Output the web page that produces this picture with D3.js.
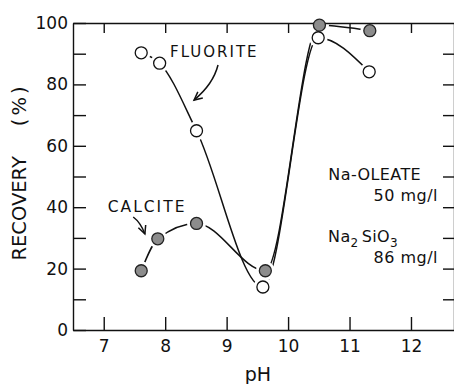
<!DOCTYPE html>
<html>
<head>
<meta charset="utf-8">
<script src="https://cdnjs.cloudflare.com/ajax/libs/d3/7.8.5/d3.min.js"></script>
<style>
  body { margin: 0; background: #fff; }
  svg { display: block; font-family: "DejaVu Sans", sans-serif; }
  .axis path, .axis line { stroke: #111; stroke-width: 1.4; }
  .axis text { font-size: 17px; fill: #111; font-family: "DejaVu Sans", sans-serif; }
  .curve { fill: none; stroke: #111; stroke-width: 1.5; }
  .note { fill: #111; }
</style>
</head>
<body>
<svg id="chart" width="454" height="384"></svg>
<script>
// recovery (%) vs pH, Na-oleate 50 mg/l + Na2SiO3 86 mg/l
var fluoritePh = [7.61, 7.91, 8.51, 9.59, 10.49, 11.32]
  , fluoriteRec = [90.3, 86.9, 64.9, 14.0, 95.2, 84.1]
  , calcitePh = [7.61, 7.88, 8.51, 9.63, 10.51, 11.33]
  , calciteRec = [19.3, 29.7, 34.7, 19.3, 99.3, 97.5]
  , xTicks = [7, 8, 9, 10, 11, 12]
  , yTicks = [0, 10, 20, 30, 40, 50, 60, 70, 80, 90, 100]
  , yLabelTicks = [0, 20, 40, 60, 80, 100]

var svg = d3.select('svg#chart')
  , x = d3.scaleLinear().domain([6.5, 12.7]).range([73, 454])
  , y = d3.scaleLinear().domain([0, 100]).range([330, 23])

var fluorite = d3.zip(fluoritePh, fluoriteRec)
  , calcite = d3.zip(calcitePh, calciteRec)

var line = d3.line()
  .x(function(d) { return x(d[0]) })
  .y(function(d) { return y(d[1]) })
  .curve(d3.curveMonotoneX)

svg.append('path').attr('class', 'curve').attr('d', line(fluorite))
svg.append('path').attr('class', 'curve').attr('d', line(calcite))

// white halos give the gaps around the markers
svg.append('g').selectAll('circle').data(fluorite.concat(calcite))
  .enter().append('circle')
  .attr('cx', function(d) { return x(d[0]) })
  .attr('cy', function(d) { return y(d[1]) })
  .attr('r', 9.5)
  .attr('fill', '#fff')

// axes, ticks pointing inward
svg.append('g').attr('class', 'axis')
  .attr('transform', 'translate(0,' + y(0) + ')')
  .call(d3.axisBottom(x).tickValues(xTicks).tickSizeInner(-13).tickSizeOuter(0).tickPadding(10).tickFormat(d3.format('d')))

svg.append('g').attr('class', 'axis')
  .attr('transform', 'translate(0,' + y(100) + ')')
  .call(d3.axisTop(x).tickValues(xTicks).tickSizeInner(-10).tickSizeOuter(0).tickFormat(''))

svg.append('g').attr('class', 'axis')
  .attr('transform', 'translate(' + x(6.5) + ',0)')
  .call(d3.axisLeft(y).tickValues(yTicks).tickSizeInner(-13).tickSizeOuter(0).tickPadding(5)
    .tickFormat(function(d) { return yLabelTicks.indexOf(d) >= 0 ? d : '' }))

svg.append('g').attr('class', 'axis')
  .attr('transform', 'translate(' + x(12.7) + ',0)')
  .call(d3.axisRight(y).tickValues(yTicks.slice(1, -1)).tickSizeInner(-11).tickSizeOuter(0).tickFormat(''))

// markers
svg.append('g').selectAll('circle').data(calcite)
  .enter().append('circle')
  .attr('cx', function(d) { return x(d[0]) })
  .attr('cy', function(d) { return y(d[1]) })
  .attr('r', 6)
  .attr('fill', '#8c8c8c')
  .attr('stroke', '#222')
  .attr('stroke-width', 1.3)

svg.append('g').selectAll('circle').data(fluorite)
  .enter().append('circle')
  .attr('cx', function(d) { return x(d[0]) })
  .attr('cy', function(d) { return y(d[1]) })
  .attr('r', 6)
  .attr('fill', '#fff')
  .attr('stroke', '#111')
  .attr('stroke-width', 1.3)

// axis titles
svg.append('text').attr('class', 'note')
  .attr('x', 258).attr('y', 381)
  .attr('text-anchor', 'middle')
  .style('font-size', '19px')
  .text('pH')

var yTitle = svg.append('text').attr('class', 'note')
  .attr('transform', 'translate(26,172) rotate(-90)')
  .attr('text-anchor', 'middle')
  .style('font-size', '19.5px')
yTitle.append('tspan').text('RECOVERY')
yTitle.append('tspan').attr('dx', 30).style('letter-spacing', '3px').text('(%)')

// labels and arrows
var arrow = function(p0, pc, p1) {
  var x0 = x(p0[0]), y0 = y(p0[1])
    , cx = x(pc[0]), cy = y(pc[1])
    , x1 = x(p1[0]), y1 = y(p1[1])
    , a = Math.atan2(y1 - cy, x1 - cx)
    , len = 9, spread = 0.45
  svg.append('path').attr('class', 'curve')
    .attr('d', 'M' + x0 + ',' + y0 + 'Q' + cx + ',' + cy + ' ' + x1 + ',' + y1)
  svg.append('path').attr('class', 'curve')
    .attr('d', 'M' + (x1 - len * Math.cos(a - spread)) + ',' + (y1 - len * Math.sin(a - spread)) +
      'L' + x1 + ',' + y1 +
      'L' + (x1 - len * Math.cos(a + spread)) + ',' + (y1 - len * Math.sin(a + spread)))
}

var note = function(ph, rec, txt, size, anchor, spacing) {
  return svg.append('text').attr('class', 'note')
    .attr('x', x(ph)).attr('y', y(rec))
    .attr('text-anchor', anchor || 'start')
    .style('font-size', size + 'px')
    .style('letter-spacing', (spacing || 0) + 'px')
    .text(txt)
}

note(8.08, 88.8, 'FLUORITE', 15, 'start', 2)
arrow([8.86, 86.3], [8.78, 80], [8.47, 74.9])

note(7.065, 38.4, 'CALCITE', 15.5, 'start', 2)
arrow([7.48, 36.8], [7.6, 35], [7.67, 31.3])

note(10.655, 48.9, 'Na-OLEATE', 16, 'start', 0.4)
note(12.44, 42.1, '50 mg/l', 16, 'end', 0.5)

var silicate = note(10.65, 28.8, 'Na', 16, 'start', 0.4)
silicate.append('tspan').attr('dy', 5).style('font-size', '12px').text('2')
silicate.append('tspan').attr('dy', -5).attr('dx', 3).text('SiO')
silicate.append('tspan').attr('dy', 5).style('font-size', '12px').text('3')
note(12.44, 21.7, '86 mg/l', 16, 'end', 0.5)
</script>
</body>
</html>
